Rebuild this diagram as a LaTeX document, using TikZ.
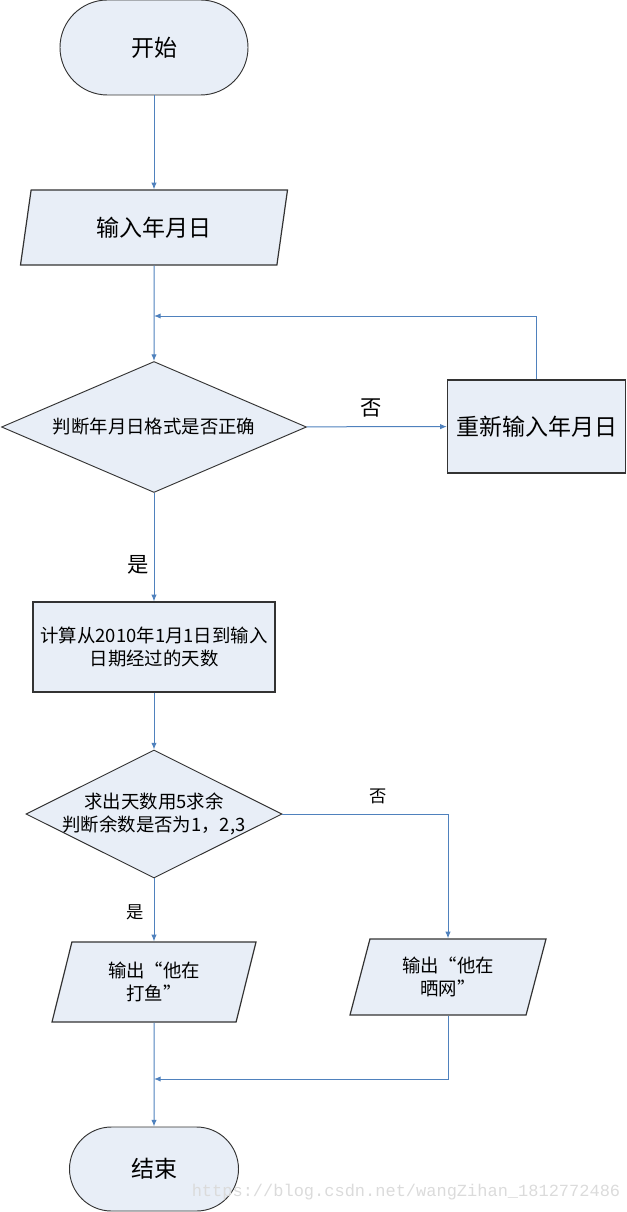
\documentclass[tikz,border=0pt]{standalone}
\usepackage{fontspec}
\setmainfont{Noto Sans CJK SC}
\newfontfamily\urlfont{Liberation Mono}
\usetikzlibrary{shapes.geometric}
\usetikzlibrary{arrows.meta}
\definecolor{boxfill}{HTML}{E8EEF7}
\definecolor{linkblue}{HTML}{4F81BD}
\definecolor{edgegray}{HTML}{333333}

\begin{document}
\begin{tikzpicture}[x=0.75pt, y=-0.75pt,
    terminal/.style={rectangle, draw=edgegray, fill=boxfill, line width=0.7pt, inner sep=0pt, font=\fontsize{17.25}{20}\selectfont},
    io/.style={trapezium, trapezium left angle=63.5, trapezium right angle=116.5, trapezium stretches body, draw=edgegray, fill=boxfill, line width=0.9pt, inner sep=0pt, align=center},
    decision/.style={diamond, draw=edgegray, fill=boxfill, line width=0.7pt, inner sep=0pt, align=center},
    process/.style={rectangle, draw=edgegray, fill=boxfill, line width=0.9pt, inner sep=0pt, align=center},
    small/.style={font=\fontsize{13.8}{17.25}\selectfont},
    big/.style={font=\fontsize{17.25}{20}\selectfont},
    link/.style={draw=linkblue, line width=0.75pt, -{Latex[length=5pt, width=4pt]}},
    plain link/.style={draw=linkblue, line width=0.75pt},
    answer/.style={inner sep=0pt}]
  \useasboundingbox (0,0) rectangle (627,1212);
  %
  \node[terminal, rounded corners=35.6pt, minimum width=141pt, minimum height=71.25pt] (start) at (154,47.5) {开始};
  \node[io, big, minimum width=200.25pt, minimum height=56.25pt] (in) at (154,227.5) {输入年月日};
  \coordinate (loopin) at (154,316);
  \node[decision, small, aspect=2.33, minimum width=228.75pt, minimum height=98.25pt] (chk) at (154,427) {判断年月日格式是否正确};
  \node[process, big, minimum width=133.5pt, minimum height=69.75pt] (redo) at (536.5,426.5) {重新输入年月日};
  %
  \node[process, small, minimum width=181.5pt, minimum height=67.5pt] (calc) at (154,647) {计算从2010年1月1日到输入\\日期经过的天数};
  \node[decision, small, aspect=2, inner sep=-4pt, minimum width=192pt, minimum height=96pt] (mod) at (154,814) {求出天数用5求余\\判断余数是否为1，2,3};
  %
  \node[io, small, minimum width=153pt, minimum height=60pt] (fish) at (154,982) {输出“他在\\打鱼”};
  \node[io, small, minimum width=147pt, minimum height=57pt] (net) at (448,977) {输出“他在\\晒网”};
  \coordinate (merge) at (154,1079);
  \node[terminal, rounded corners=31.5pt, minimum width=126.75pt, minimum height=63pt] (end) at (154,1169) {结束};
  %
  \node[answer, font=\fontsize{16}{18}\selectfont] (no1) at (371,408) {否};
  \node[answer, font=\fontsize{16}{18}\selectfont] (yes1) at (138,565) {是};
  \node[answer, font=\fontsize{13}{15}\selectfont] (no2) at (378,796) {否};
  \node[answer, font=\fontsize{13}{15}\selectfont] (yes2) at (135,912) {是};
  %
  \draw[link] (start) -- (in);
  \draw[link] (in) -- (chk);
  \draw[link] (chk) -- (redo);
  \draw[link] (redo) |- (loopin);
  \draw[link] (chk) -- (calc);
  \draw[link] (calc) -- (mod);
  \draw[link] (mod) -- (fish);
  \draw[link] (mod.east) -| (net);
  \draw[link] (net) |- (merge);
  \draw[link] (fish) -- (end);
  %
  \node[text=gray!28, font=\urlfont\fontsize{12.75}{14}\selectfont] (mark) at (406,1192) {https://blog.csdn.net/wangZihan\_1812772486};
\end{tikzpicture}
\end{document}
